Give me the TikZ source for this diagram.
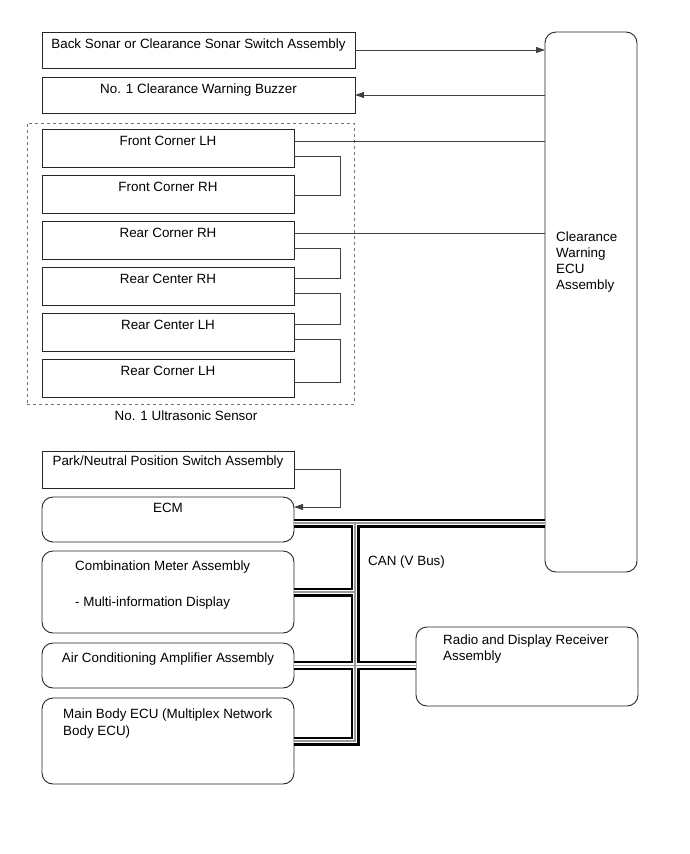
\documentclass[tikz,border=0pt]{standalone}
\usepackage{fontspec}
\setmainfont{Liberation Sans}
\usetikzlibrary{arrows.meta,calc}
\begin{document}
\begin{tikzpicture}[x=1pt,y=-1pt,
  box/.style={draw=black!85, line width=0.9pt, rectangle, inner sep=0pt, outer sep=0pt, anchor=north west},
  rbox/.style={box, rounded corners=11pt},
  lbl/.style={font=\fontsize{13.4}{16.3}\selectfont, inner sep=0pt, anchor=base},
  lbll/.style={lbl, anchor=base west, align=left},
  wire/.style={draw=black!75, line width=0.9pt},
  arr/.style={wire, -{Triangle[length=9pt,width=6pt]}},
]
\useasboundingbox (0,0) rectangle (690,854);

% group frame
\node[draw=black!55, dashed, line width=0.8pt, inner sep=0pt, anchor=north west, minimum width=327pt, minimum height=281pt] (grp) at (27,123) {};

% boxes
\node[box, minimum width=313pt, minimum height=36pt] (sonar) at (42,32) {};
\node[box, minimum width=313pt, minimum height=36pt] (buzzer) at (42,77) {};
\node[box, minimum width=252pt, minimum height=38pt] (fclh) at (42,129) {};
\node[box, minimum width=252pt, minimum height=38pt] (fcrh) at (42,175) {};
\node[box, minimum width=252pt, minimum height=38pt] (rcrh) at (42,221) {};
\node[box, minimum width=252pt, minimum height=38pt] (rctrh) at (42,267) {};
\node[box, minimum width=252pt, minimum height=38pt] (rctlh) at (42,313) {};
\node[box, minimum width=252pt, minimum height=38pt] (rclh) at (42,359) {};
\node[box, minimum width=252pt, minimum height=37pt] (park) at (42,451) {};
\node[rbox, minimum width=252pt, minimum height=45pt] (ecm) at (42,497) {};
\node[rbox, minimum width=252pt, minimum height=82pt] (comb) at (42,551) {};
\node[rbox, minimum width=252pt, minimum height=45pt] (aircon) at (42,643) {};
\node[rbox, minimum width=252pt, minimum height=86pt] (mbecu) at (42,698) {};
\node[rbox, minimum width=222pt, minimum height=79pt] (radio) at (416,627) {};
\node[rbox, minimum width=92pt, minimum height=540pt] (ecu) at (545,32) {};

% labels
\node[lbl] (tsonar) at (198.5,48) {Back Sonar or Clearance Sonar Switch Assembly};
\node[lbl] (tbuzzer) at (198.5,93) {No. 1 Clearance Warning Buzzer};
\node[lbl] (tfclh) at (168,145) {Front Corner LH};
\node[lbl] (tfcrh) at (168,191) {Front Corner RH};
\node[lbl] (trcrh) at (168,237) {Rear Corner RH};
\node[lbl] (trctrh) at (168,283) {Rear Center RH};
\node[lbl] (trctlh) at (168,329) {Rear Center LH};
\node[lbl] (trclh) at (168,375) {Rear Corner LH};
\node[lbl] (tgrp) at (186,420) {No. 1 Ultrasonic Sensor};
\node[lbl] (tpark) at (168,465) {Park/Neutral Position Switch Assembly};
\node[lbl] (tecm) at (168,512) {ECM};
\node[lbll] (tcomb) at (75,570) {Combination Meter Assembly};
\node[lbll] (tcomb2) at (75,606) {- Multi-information Display};
\node[lbl] (taircon) at (168,662) {Air Conditioning Amplifier Assembly};
\node[lbll, font=\fontsize{13.4}{17}\selectfont] (tmbecu) at (63,735) {Main Body ECU (Multiplex Network\\Body ECU)};
\node[lbll, font=\fontsize{13.4}{16}\selectfont] (tradio) at (443,660) {Radio and Display Receiver\\Assembly};
\node[lbll, font=\fontsize{13.4}{16}\selectfont] (tecu) at (556,289) {Clearance\\Warning\\ECU\\Assembly};
\node[lbll] (tcan) at (368,565) {CAN (V Bus)};

% thin connectors
\draw[arr] (sonar.east) -- (sonar.east -| ecu.west);
\draw[arr] (ecu.west |- buzzer.east) -- (buzzer.east);
\draw[wire] ($(fclh.north east)+(0,12)$) -- ($(ecu.west |- fclh.north east)+(0,12)$);
\draw[wire] ($(fclh.north east)+(0,27)$) -- ++(46,0) |- ($(fcrh.north east)+(0,20)$);
\draw[wire] ($(rcrh.north east)+(0,12)$) -- ($(ecu.west |- rcrh.north east)+(0,12)$);
\draw[wire] ($(rcrh.north east)+(0,27)$) -- ++(46,0) |- ($(rctrh.north east)+(0,11)$);
\draw[wire] ($(rctrh.north east)+(0,26)$) -- ++(46,0) |- ($(rctlh.north east)+(0,11)$);
\draw[wire] ($(rctlh.north east)+(0,26)$) -- ++(46,0) |- ($(rclh.north east)+(0,23)$);
\draw[arr] (park.east) -- ++(46,0) |- ($(ecm.north east)+(0,10)$);

% CAN bus cable
\coordinate (busy) at (0,523);
\coordinate (trunk) at (355,0);
\foreach \w/\c in {9/black,4.6/white,1.3/black!40}{
  \draw[line width=\w pt, draw=\c]
    (ecm.east |- busy) -- (ecu.west |- busy)
    (trunk |- busy) -- (trunk |- mbecu.east) -- (mbecu.east)
    (comb.east) -- (trunk |- comb.east)
    (aircon.east) -- (radio.west |- aircon.east);
}
\end{tikzpicture}
\end{document}
